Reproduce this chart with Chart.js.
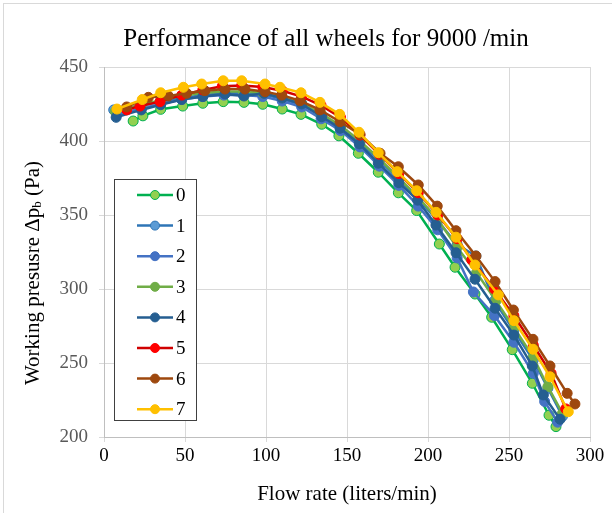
<!DOCTYPE html>
<html><head><meta charset="utf-8">
<script src="https://cdn.jsdelivr.net/npm/chart.js@4/dist/chart.umd.min.js"></script>
<style>html,body{margin:0;padding:0;background:#fff}canvas{display:block}</style>
</head><body>
<canvas id="c" width="612" height="513"></canvas>
<script>
const seriesNames = ['0','1','2','3','4','5','6','7'];
const xTicks = [0,50,100,150,200,250,300];
const yTicks = [200,250,300,350,400,450];

const flow0 = [18,24,35,48.6,61,73.6,86.4,98,110,121.6,134.4,145,157,169.3,181.7,193,207,216.7,229,239.3,252,264.4,274.7,279];
const press0 = [413.5,417,421.4,423.6,425.5,426.6,426.1,424.8,421.6,418,411.3,403.5,391.7,378.9,365,353,330.4,314.7,296.6,280.9,259,236.3,214.7,207];

const flow1 = [6,23,35,48,61,74,86,98,110,122,134,146,158,170,182,194,206,218,229.6,241,253,265,274,283];
const press1 = [421,424,426.5,429,431,432.5,432.5,431.5,428.5,424.5,417.5,409.5,399,387,374,361,346,330,322.3,292,272,252,233,214];

const flow2 = [8,23,35,48,61,74,86,98,110,122,134,146,158,170,182,194,206,218,228,241,253,265,272,280];
const press2 = [418,422,425,428,430,431,431,430,427,423,415,407,396,383,370,356,340,321,298,282,264,243,224,210];

const flow3 = [7,23,35,48,61,74,86,98,110,122,134,146,158,170,182,194,206,218,230,242,253,265,274,283];
const press3 = [420,424.5,427.5,430.5,432.5,433.5,433.5,432.5,429.5,425.5,418.5,410.5,400,388,375,362,347,328,311,292,274,254,234,216];

const flow4 = [7.5,23,35,48,61,74.7,86.4,98.8,110,122,134.4,145.7,157.6,169.3,182,193.6,204.9,217.3,229,241.4,253,264.4,271.2,281.5];
const press4 = [416,421,424.5,428,430,431.8,430.4,432.2,429,425,416.4,408.6,398,385,371.8,360,343.2,324.5,306.6,287,268.9,248,228.4,212];

const flow5 = [14,22.2,34.6,48,61,73,85,98,110,122,134,146,158,170,182,194,206,218,227,241,253,265,276,285];
const press5 = [421,423.6,426.6,431,434.5,437,437.5,436.5,434,430,424,416,404,391,378,365,350,334,319.6,300,282,262,243,219];

const flow6 = [14,27.4,39.7,51,62.3,74.7,87,99.4,109.7,121,133.3,145.7,158,170.4,181.7,194,205.7,217.3,229.6,241.4,252.7,264.8,275.3,285.9,290.7];
const press6 = [423,429.5,430.4,432.2,434,435.1,435.1,433.3,431,427.2,421,413,404.5,391.7,382.6,370.3,356,339.4,322.3,305,285.8,266,248,229.5,222.3];

const flow7 = [8,23.6,35,49,60.3,73.6,85,99.4,108.6,121.6,133.3,145.5,157.4,169.3,181,193,205,217.3,229,243.4,253,264.8,275.3,286.6];
const press7 = [421.6,428,432.6,436.3,438.5,440.7,440.7,438.5,436.3,432.6,426.1,418,405.9,392.1,379.3,366.4,351.8,335,316.2,296,278.6,259.3,240.7,217.1];

const flows = [flow0,flow1,flow2,flow3,flow4,flow5,flow6,flow7];
const presses = [press0,press1,press2,press3,press4,press5,press6,press7];
const lineColors = ['#00B050','#2E75B6','#4472C4','#70AD47','#255E91','#D00000','#9E480E','#FFC000'];
const markerFill = ['#92D050','#5B9BD5','#4472C4','#70AD47','#255E91','#FF0000','#9E480E','#FFC000'];
const markerBorder = ['#00B050','#2E75B6','#4472C4','#70AD47','#255E91','#FF0000','#9E480E','#FFC000'];

const titleText = 'Performance of all wheels for 9000 /min';

const datasets = seriesNames.map((name,i)=>({
  label: name,
  data: flows[i].map((x,k)=>({x:x, y:presses[i][k]})),
  showLine: true,
  borderColor: lineColors[i],
  backgroundColor: markerFill[i],
  borderWidth: 2.5,
  pointRadius: 5,
  pointBorderWidth: 1,
  pointBorderColor: markerBorder[i],
  pointBackgroundColor: markerFill[i],
  tension: 0,
  order: 7 - i
}));

const serif = "'Liberation Serif','Times New Roman',serif";

const decor = {
  id: 'decor',
  beforeDraw(chart){
    const ctx = chart.ctx;
    ctx.save();
    ctx.fillStyle = '#fff';
    ctx.fillRect(0,0,chart.width,chart.height);
    ctx.strokeStyle = '#D9D9D9';
    ctx.lineWidth = 1;
    ctx.strokeRect(3.5,3.5,chart.width+10,chart.height+10);
    ctx.restore();
  },
  afterDraw(chart){
    const ctx = chart.ctx;
    // title
    ctx.save();
    ctx.fillStyle = '#000';
    ctx.font = "25px " + serif;
    ctx.textAlign = 'center';
    ctx.textBaseline = 'middle';
    ctx.fillText(titleText, 326, 39);
    ctx.restore();

    // y axis title with subscript
    ctx.save();
    ctx.translate(33, 273);
    ctx.rotate(-Math.PI/2);
    ctx.fillStyle = '#000';
    ctx.textBaseline = 'middle';
    const big = "21px " + serif, small = "13px " + serif;
    const p1 = 'Working presusre Δp', p2 = 'b', p3 = ' (Pa)';
    ctx.font = big; const w1 = ctx.measureText(p1).width, w3 = ctx.measureText(p3).width;
    ctx.font = small; const w2 = ctx.measureText(p2).width;
    let x = -(w1+w2+w3)/2;
    ctx.font = big; ctx.textAlign = 'left'; ctx.fillText(p1, x, 0); x += w1;
    ctx.font = small; ctx.fillText(p2, x, 5); x += w2;
    ctx.font = big; ctx.fillText(p3, x, 0);
    ctx.restore();

    // legend box
    ctx.save();
    const L = 114.5, T = 179.5, W = 82, H = 241;
    ctx.fillStyle = '#fff';
    ctx.fillRect(L,T,W,H);
    ctx.strokeStyle = '#404040';
    ctx.lineWidth = 1;
    ctx.strokeRect(L,T,W,H);
    chart.data.datasets.forEach((ds,i)=>{
      const cy = 195 + i*30.6;
      ctx.strokeStyle = ds.borderColor;
      ctx.lineWidth = 2.5;
      ctx.beginPath(); ctx.moveTo(137,cy); ctx.lineTo(173,cy); ctx.stroke();
      ctx.beginPath(); ctx.arc(155,cy,4.5,0,Math.PI*2);
      ctx.fillStyle = ds.pointBackgroundColor; ctx.fill();
      ctx.lineWidth = 1; ctx.strokeStyle = ds.pointBorderColor; ctx.stroke();
      ctx.fillStyle = '#000';
      ctx.font = "19px " + serif;
      ctx.textAlign = 'left'; ctx.textBaseline = 'middle';
      ctx.fillText(ds.label, 176, cy+1);
    });
    ctx.restore();
  }
};

new Chart(document.getElementById('c'), {
  type: 'scatter',
  data: { datasets },
  options: {
    responsive: false,
    animation: false,
    layout: { padding: { left: 0, right: 22, top: 67, bottom: 0 } },
    plugins: {
      legend: { display: false },
      tooltip: { enabled: false },
      title: { display: false }
    },
    scales: {
      x: {
        type: 'linear', min: 0, max: 300,
        afterBuildTicks(scale){ scale.ticks = xTicks.map(v=>({value:v})); },
        afterFit(scale){ scale.height = 76; },
        grid: { color: '#D9D9D9', lineWidth: 1, tickLength: 5, drawTicks: true },
        border: { color: '#BFBFBF', width: 1 },
        ticks: { color: '#000', padding: 3, maxRotation: 0, font: { family: serif, size: 19 } },
        title: { display: true, text: 'Flow rate (liters/min)', color: '#000', font: { family: serif, size: 21 }, padding: { top: 0, bottom: 6 } }
      },
      y: {
        type: 'linear', min: 200, max: 450,
        afterBuildTicks(scale){ scale.ticks = yTicks.map(v=>({value:v})); },
        afterFit(scale){ scale.width = 104; },
        grid: { color: '#D9D9D9', lineWidth: 1, tickLength: 5, drawTicks: true },
        border: { color: '#BFBFBF', width: 1 },
        ticks: { color: '#595959', padding: 11, font: { family: serif, size: 19 } }
      }
    }
  },
  plugins: [decor]
});
</script>
</body></html>
